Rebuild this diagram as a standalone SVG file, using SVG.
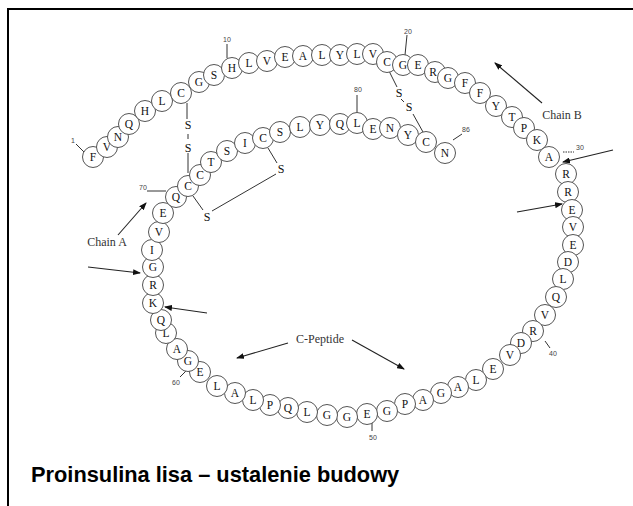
<svg xmlns="http://www.w3.org/2000/svg" width="633" height="506" viewBox="0 0 633 506">
<style>
.aa circle{fill:#fff;stroke:#555;stroke-width:1}
.aa text{font-family:"Liberation Serif",serif;font-size:11.5px;fill:#111;text-anchor:middle}
.ln{stroke:#333;stroke-width:1;fill:none}
.ar{stroke:#222;stroke-width:1.1;fill:none;marker-end:url(#ah)}
.num{font-family:"Liberation Sans",sans-serif;font-size:7px;fill:#444;text-anchor:middle}
.s{font-family:"Liberation Serif",serif;font-size:12px;fill:#111;text-anchor:middle}
.lab{font-family:"Liberation Serif",serif;font-size:12px;fill:#333;text-anchor:middle}
</style>
<defs>
<marker id="ah" markerWidth="8" markerHeight="6" refX="7" refY="3" orient="auto" markerUnits="userSpaceOnUse"><path d="M0,0 L8,3 L0,6 z" fill="#111"/></marker>
</defs>
<rect width="633" height="506" fill="#fff"/>
<g id="frame"><line x1="8" y1="9" x2="633" y2="9" stroke="#000" stroke-width="2.2"/><line x1="8" y1="8" x2="8" y2="506" stroke="#000" stroke-width="2"/></g>
<g id="connectors">
<line class="ln" x1="187" y1="103" x2="187" y2="119"/>
<line class="ln" x1="188" y1="134" x2="188" y2="139"/>
<line class="ln" x1="188" y1="153" x2="188" y2="173"/>
<line class="ln" x1="387" y1="67" x2="397" y2="87"/>
<line class="ln" x1="401" y1="99" x2="404" y2="102"/>
<line class="ln" x1="413" y1="114" x2="423" y2="132"/>
<line class="ln" x1="268" y1="148" x2="277" y2="163"/>
<line class="ln" x1="276" y1="174" x2="212" y2="211"/>
<line class="ln" x1="203" y1="210" x2="193" y2="196"/>
<line class="ln" x1="76" y1="144" x2="84" y2="152"/>
<line class="ln" x1="227" y1="44" x2="227" y2="58"/>
<line class="ln" x1="407" y1="35" x2="405" y2="55"/>
<line class="ln" x1="563" y1="152" x2="574" y2="152" stroke-dasharray="1.5 1"/>
<line class="ln" x1="545" y1="341" x2="550" y2="348"/>
<line class="ln" x1="372" y1="421" x2="372" y2="431"/>
<line class="ln" x1="180" y1="377" x2="186" y2="371"/>
<line class="ln" x1="147" y1="191" x2="166" y2="191"/>
<line class="ln" x1="357" y1="95" x2="357" y2="113"/>
<line class="ln" x1="453" y1="140" x2="462" y2="134"/>
<line class="ar" x1="542" y1="103" x2="495" y2="63"/>
<line class="ar" x1="613" y1="150" x2="563" y2="162"/>
<line class="ar" x1="517" y1="212" x2="562" y2="204"/>
<line class="ar" x1="118" y1="235" x2="146" y2="203"/>
<line class="ar" x1="88" y1="267" x2="140" y2="273"/>
<line class="ar" x1="207" y1="313" x2="165" y2="307"/>
<line class="ar" x1="288" y1="343" x2="237" y2="358"/>
<line class="ar" x1="352" y1="340" x2="404" y2="369"/>
</g>
<g id="ss-labels">
<text class="s" x="188" y="129">S</text>
<text class="s" x="188" y="152">S</text>
<text class="s" x="399" y="97">S</text>
<text class="s" x="409" y="111">S</text>
<text class="s" x="281" y="173">S</text>
<text class="s" x="207" y="221">S</text>
</g>
<g id="numbers">
<text class="num" x="73" y="143">1</text>
<text class="num" x="227" y="42">10</text>
<text class="num" x="408" y="34">20</text>
<text class="num" x="580" y="150">30</text>
<text class="num" x="553" y="356">40</text>
<text class="num" x="373" y="440">50</text>
<text class="num" x="176" y="385">60</text>
<text class="num" x="143" y="190">70</text>
<text class="num" x="358" y="92">80</text>
<text class="num" x="466" y="132">86</text>
</g>
<g id="labels">
<text class="lab" x="562" y="119">Chain B</text>
<text class="lab" x="107" y="246">Chain A</text>
<text class="lab" x="320" y="343">C-Peptide</text>
</g>
<g id="r1" class="aa"><circle cx="93" cy="157" r="10.5"/><text x="93" y="161">F</text></g>
<g id="r2" class="aa"><circle cx="107" cy="147" r="10.5"/><text x="107" y="151">V</text></g>
<g id="r3" class="aa"><circle cx="118" cy="137" r="10.5"/><text x="118" y="141">N</text></g>
<g id="r4" class="aa"><circle cx="129" cy="124" r="10.5"/><text x="129" y="128">Q</text></g>
<g id="r5" class="aa"><circle cx="145" cy="111" r="10.5"/><text x="145" y="115">H</text></g>
<g id="r6" class="aa"><circle cx="162" cy="101" r="10.5"/><text x="162" y="105">L</text></g>
<g id="r7" class="aa"><circle cx="181" cy="93" r="10.5"/><text x="181" y="97">C</text></g>
<g id="r8" class="aa"><circle cx="199" cy="82" r="10.5"/><text x="199" y="86">G</text></g>
<g id="r9" class="aa"><circle cx="214" cy="75" r="10.5"/><text x="214" y="79">S</text></g>
<g id="r10" class="aa"><circle cx="232" cy="68" r="10.5"/><text x="232" y="72">H</text></g>
<g id="r11" class="aa"><circle cx="249" cy="63" r="10.5"/><text x="249" y="67">L</text></g>
<g id="r12" class="aa"><circle cx="267" cy="61" r="10.5"/><text x="267" y="65">V</text></g>
<g id="r13" class="aa"><circle cx="285" cy="57" r="10.5"/><text x="285" y="61">E</text></g>
<g id="r14" class="aa"><circle cx="303" cy="56" r="10.5"/><text x="303" y="60">A</text></g>
<g id="r15" class="aa"><circle cx="322" cy="55" r="10.5"/><text x="322" y="59">L</text></g>
<g id="r16" class="aa"><circle cx="340" cy="55" r="10.5"/><text x="340" y="59">Y</text></g>
<g id="r17" class="aa"><circle cx="357" cy="54" r="10.5"/><text x="357" y="58">L</text></g>
<g id="r18" class="aa"><circle cx="373" cy="54" r="10.5"/><text x="373" y="58">V</text></g>
<g id="r19" class="aa"><circle cx="387" cy="62" r="10.5"/><text x="387" y="66">C</text></g>
<g id="r20" class="aa"><circle cx="403" cy="65" r="10.5"/><text x="403" y="69">G</text></g>
<g id="r21" class="aa"><circle cx="418" cy="65" r="10.5"/><text x="418" y="69">E</text></g>
<g id="r22" class="aa"><circle cx="435" cy="72" r="10.5"/><text x="433" y="76">R</text></g>
<g id="r23" class="aa"><circle cx="448" cy="78" r="10.5"/><text x="448" y="82">G</text></g>
<g id="r24" class="aa"><circle cx="465" cy="83" r="10.5"/><text x="465" y="87">F</text></g>
<g id="r25" class="aa"><circle cx="480" cy="93" r="10.5"/><text x="480" y="97">F</text></g>
<g id="r26" class="aa"><circle cx="496" cy="106" r="10.5"/><text x="496" y="110">Y</text></g>
<g id="r27" class="aa"><circle cx="512" cy="117" r="10.5"/><text x="512" y="121">T</text></g>
<g id="r28" class="aa"><circle cx="524" cy="128" r="10.5"/><text x="524" y="132">P</text></g>
<g id="r29" class="aa"><circle cx="537" cy="140" r="10.5"/><text x="537" y="144">K</text></g>
<g id="r30" class="aa"><circle cx="549" cy="157" r="10.5"/><text x="549" y="161">A</text></g>
<g id="r31" class="aa"><circle cx="566" cy="174" r="10.5"/><text x="566" y="178">R</text></g>
<g id="r32" class="aa"><circle cx="568" cy="192" r="10.5"/><text x="568" y="196">R</text></g>
<g id="r33" class="aa"><circle cx="572" cy="210" r="10.5"/><text x="572" y="214">E</text></g>
<g id="r34" class="aa"><circle cx="573" cy="227" r="10.5"/><text x="573" y="231">V</text></g>
<g id="r35" class="aa"><circle cx="573" cy="245" r="10.5"/><text x="573" y="249">E</text></g>
<g id="r36" class="aa"><circle cx="568" cy="262" r="10.5"/><text x="568" y="266">D</text></g>
<g id="r37" class="aa"><circle cx="563" cy="279" r="10.5"/><text x="563" y="283">L</text></g>
<g id="r38" class="aa"><circle cx="556" cy="297" r="10.5"/><text x="556" y="301">Q</text></g>
<g id="r39" class="aa"><circle cx="545" cy="315" r="10.5"/><text x="545" y="319">V</text></g>
<g id="r40" class="aa"><circle cx="533" cy="331" r="10.5"/><text x="533" y="335">R</text></g>
<g id="r41" class="aa"><circle cx="521" cy="343" r="10.5"/><text x="521" y="347">D</text></g>
<g id="r42" class="aa"><circle cx="510" cy="355" r="10.5"/><text x="510" y="359">V</text></g>
<g id="r43" class="aa"><circle cx="493" cy="369" r="10.5"/><text x="493" y="373">E</text></g>
<g id="r44" class="aa"><circle cx="476" cy="380" r="10.5"/><text x="476" y="384">L</text></g>
<g id="r45" class="aa"><circle cx="458" cy="387" r="10.5"/><text x="458" y="391">A</text></g>
<g id="r46" class="aa"><circle cx="441" cy="393" r="10.5"/><text x="441" y="397">G</text></g>
<g id="r47" class="aa"><circle cx="423" cy="400" r="10.5"/><text x="423" y="404">A</text></g>
<g id="r48" class="aa"><circle cx="405" cy="404" r="10.5"/><text x="405" y="408">P</text></g>
<g id="r49" class="aa"><circle cx="387" cy="411" r="10.5"/><text x="387" y="415">G</text></g>
<g id="r50" class="aa"><circle cx="367" cy="414" r="10.5"/><text x="367" y="418">E</text></g>
<g id="r51" class="aa"><circle cx="347" cy="417" r="10.5"/><text x="347" y="421">G</text></g>
<g id="r52" class="aa"><circle cx="327" cy="415" r="10.5"/><text x="327" y="419">G</text></g>
<g id="r53" class="aa"><circle cx="307" cy="412" r="10.5"/><text x="307" y="416">L</text></g>
<g id="r54" class="aa"><circle cx="288" cy="408" r="10.5"/><text x="288" y="412">Q</text></g>
<g id="r55" class="aa"><circle cx="270" cy="405" r="10.5"/><text x="270" y="409">P</text></g>
<g id="r56" class="aa"><circle cx="253" cy="400" r="10.5"/><text x="253" y="404">L</text></g>
<g id="r57" class="aa"><circle cx="235" cy="393" r="10.5"/><text x="235" y="397">A</text></g>
<g id="r58" class="aa"><circle cx="217" cy="386" r="10.5"/><text x="217" y="390">L</text></g>
<g id="r59" class="aa"><circle cx="200" cy="372" r="10.5"/><text x="200" y="376">E</text></g>
<g id="r60" class="aa"><circle cx="188" cy="361" r="10.5"/><text x="188" y="365">G</text></g>
<g id="r61" class="aa"><circle cx="177" cy="349" r="10.5"/><text x="177" y="353">A</text></g>
<g id="r62" class="aa"><circle cx="166" cy="333" r="10.5"/><text x="166" y="337">L</text></g>
<g id="r63" class="aa"><circle cx="161" cy="320" r="10.5"/><text x="161" y="324">Q</text></g>
<g id="r64" class="aa"><circle cx="153" cy="303" r="10.5"/><text x="153" y="307">K</text></g>
<g id="r65" class="aa"><circle cx="153" cy="285" r="10.5"/><text x="153" y="289">R</text></g>
<g id="r66" class="aa"><circle cx="153" cy="267" r="10.5"/><text x="153" y="271">G</text></g>
<g id="r67" class="aa"><circle cx="152" cy="250" r="10.5"/><text x="152" y="254">I</text></g>
<g id="r68" class="aa"><circle cx="159" cy="232" r="10.5"/><text x="159" y="236">V</text></g>
<g id="r69" class="aa"><circle cx="163" cy="213" r="10.5"/><text x="163" y="217">E</text></g>
<g id="r70" class="aa"><circle cx="176" cy="197" r="10.5"/><text x="176" y="201">Q</text></g>
<g id="r71" class="aa"><circle cx="188" cy="186" r="10.5"/><text x="188" y="190">C</text></g>
<g id="r72" class="aa"><circle cx="200" cy="175" r="10.5"/><text x="200" y="179">C</text></g>
<g id="r73" class="aa"><circle cx="211" cy="162" r="10.5"/><text x="211" y="166">T</text></g>
<g id="r74" class="aa"><circle cx="227" cy="151" r="10.5"/><text x="227" y="155">S</text></g>
<g id="r75" class="aa"><circle cx="245" cy="143" r="10.5"/><text x="245" y="147">I</text></g>
<g id="r76" class="aa"><circle cx="263" cy="138" r="10.5"/><text x="263" y="142">C</text></g>
<g id="r77" class="aa"><circle cx="280" cy="132" r="10.5"/><text x="280" y="136">S</text></g>
<g id="r78" class="aa"><circle cx="300" cy="127" r="10.5"/><text x="300" y="131">L</text></g>
<g id="r79" class="aa"><circle cx="320" cy="125" r="10.5"/><text x="320" y="129">Y</text></g>
<g id="r80" class="aa"><circle cx="340" cy="124" r="10.5"/><text x="340" y="128">Q</text></g>
<g id="r81" class="aa"><circle cx="357" cy="123" r="10.5"/><text x="357" y="127">L</text></g>
<g id="r82" class="aa"><circle cx="373" cy="129" r="10.5"/><text x="373" y="133">E</text></g>
<g id="r83" class="aa"><circle cx="390" cy="128" r="10.5"/><text x="390" y="132">N</text></g>
<g id="r84" class="aa"><circle cx="408" cy="135" r="10.5"/><text x="408" y="139">Y</text></g>
<g id="r85" class="aa"><circle cx="426" cy="142" r="10.5"/><text x="426" y="146">C</text></g>
<g id="r86" class="aa"><circle cx="445" cy="153" r="10.5"/><text x="445" y="157">N</text></g>
<g id="title"><text x="31" y="482" font-family="Liberation Sans, Arial, sans-serif" font-weight="bold" font-size="21.8" fill="#000">Proinsulina lisa – ustalenie budowy</text></g>
</svg>
